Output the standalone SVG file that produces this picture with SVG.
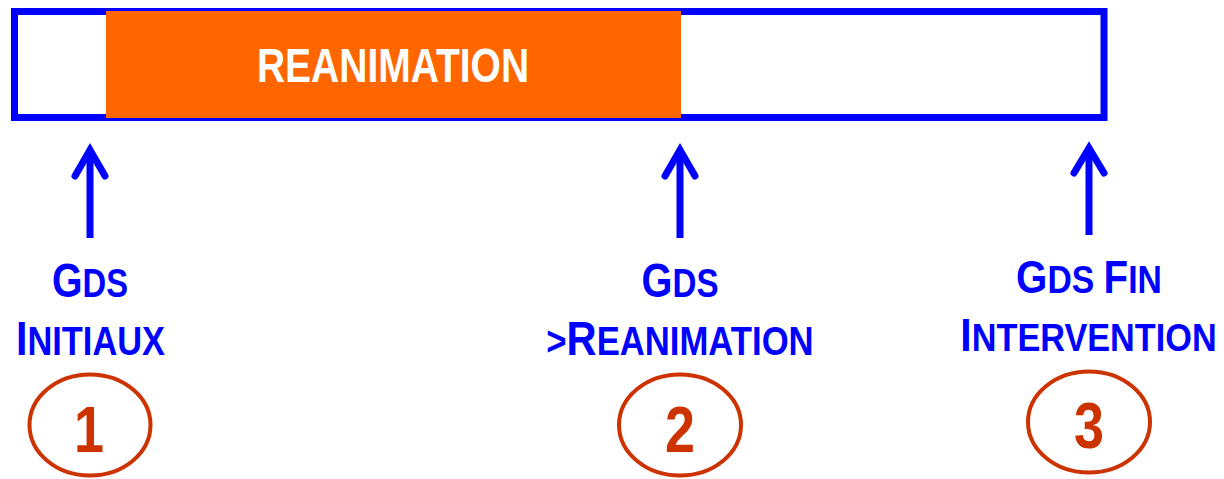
<svg xmlns="http://www.w3.org/2000/svg" width="1224" height="479" viewBox="0 0 1224 479">
<style>
.lbl{font-family:"Liberation Sans",Arial,sans-serif;font-weight:bold;fill:#0000ff;text-anchor:middle}
.big{font-size:48px}
.sm{font-size:40px}
.big3{font-size:46px}
.sm3{font-size:38.5px}
.num{font-family:"Liberation Sans",Arial,sans-serif;font-weight:bold;fill:#cc3300;font-size:64px;text-anchor:middle}
.circ{fill:none;stroke:#cc3300;stroke-width:4}
.arr{fill:none;stroke:#0000ff;stroke-width:7;stroke-linecap:round;stroke-linejoin:miter}
.shaft{stroke:#0000ff;stroke-width:7}
</style>
<g id="bar">
<rect x="14.5" y="11.5" width="1089.5" height="106" fill="#ffffff" stroke="#0000ff" stroke-width="7"/>
<rect x="106" y="11" width="575" height="107" fill="#ff6600"/>
<text transform="translate(393,82) scale(0.812,1)" x="0" y="0" font-family="Liberation Sans,Arial,sans-serif" font-weight="bold" font-size="48" fill="#ffffff" text-anchor="middle">REANIMATION</text>
</g>
<g id="connectors">
<line class="shaft" x1="90" y1="238" x2="90" y2="152"/>
<polyline class="arr" points="75,176 90,150 105,176"/>
<line class="shaft" x1="680" y1="238" x2="680" y2="152"/>
<polyline class="arr" points="665,176 680,150 695,176"/>
<line class="shaft" x1="1089" y1="235" x2="1089" y2="150"/>
<polyline class="arr" points="1074,173 1089,148 1104,173"/>
</g>
<g id="node1">
<text class="lbl" transform="translate(90,296.5) scale(0.818,1)"><tspan class="big">G</tspan><tspan class="sm">DS</tspan></text>
<text class="lbl" transform="translate(90.5,354.5) scale(0.86,1)"><tspan class="big">I</tspan><tspan class="sm">NITIAUX</tspan></text>
<ellipse class="circ" cx="90" cy="425" rx="60.5" ry="50.5"/>
<text class="num" transform="translate(89,452) scale(0.843,1)">1</text>
</g>
<g id="node2">
<text class="lbl" transform="translate(680,296.5) scale(0.829,1)"><tspan class="big">G</tspan><tspan class="sm">DS</tspan></text>
<text class="lbl" transform="translate(680,354.5) scale(0.867,1)"><tspan class="sm">&gt;</tspan><tspan class="big">R</tspan><tspan class="sm">EANIMATION</tspan></text>
<ellipse class="circ" cx="680" cy="425" rx="61" ry="50.5"/>
<text class="num" transform="translate(680,452) scale(0.843,1)">2</text>
</g>
<g id="node3">
<text class="lbl" transform="translate(1089,293) scale(0.876,1)"><tspan class="big3">G</tspan><tspan class="sm3">DS </tspan><tspan class="big3">F</tspan><tspan class="sm3">IN</tspan></text>
<text class="lbl" transform="translate(1088.5,350.5) scale(0.89,1)"><tspan class="big3">I</tspan><tspan class="sm3">NTERVENTION</tspan></text>
<ellipse class="circ" cx="1089" cy="422" rx="61" ry="50.5"/>
<text class="num" transform="translate(1089,448) scale(0.843,1)">3</text>
</g>
</svg>
